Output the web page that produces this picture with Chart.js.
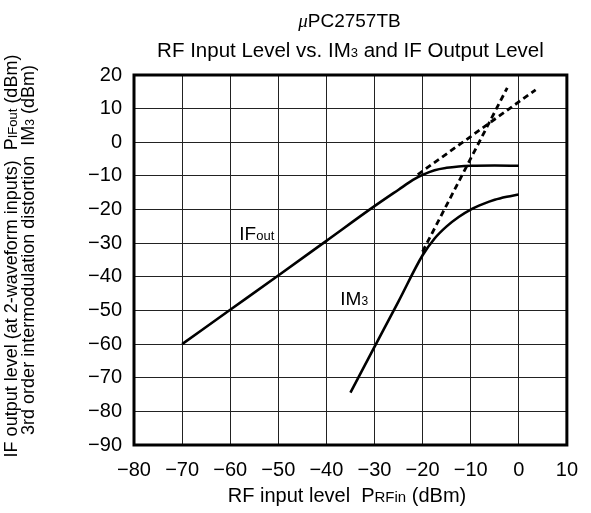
<!DOCTYPE html>
<html>
<head>
<meta charset="utf-8">
<script src="https://cdn.jsdelivr.net/npm/chart.js@4/dist/chart.umd.min.js"></script>
<style>
  html, body { margin: 0; padding: 0; background: #fff; }
  #wrap { width: 591px; height: 513px; }
</style>
</head>
<body>
<div id="wrap"><canvas id="c" width="591" height="513"></canvas></div>
<script>
// Axis ticks
const xTicks = [-80, -70, -60, -50, -40, -30, -20, -10, 0, 10];
const xTickLabels = ['\u221280', '\u221270', '\u221260', '\u221250', '\u221240', '\u221230', '\u221220', '\u221210', '0', '10'];
const yTicks = [-90, -80, -70, -60, -50, -40, -30, -20, -10, 0, 10, 20];
const yTickLabels = ['\u221290', '\u221280', '\u221270', '\u221260', '\u221250', '\u221240', '\u221230', '\u221220', '\u221210', '0', '10', '20'];

// IF output level vs RF input level (dBm)
const ifOutX = [-70, -60, -50, -40, -30, -25, -22, -20, -17.5, -15, -12.5, -10, -5, 0];
const ifOutY = [-60, -49.8, -39.6, -29.3, -19, -14.1, -11.2, -9.7, -8.3, -7.6, -7.2, -7.0, -6.9, -7.0];

// 3rd order intermodulation distortion vs RF input level (dBm)
const im3X = [-35, -30, -25, -20, -17.5, -15, -12.5, -10, -7.5, -5, -2.5, 0];
const im3Y = [-74.4, -60.8, -47.3, -33.6, -28.6, -25.0, -22.2, -20.0, -18.4, -17.1, -16.2, -15.5];

// Extrapolated straight-line asymptotes (intercept construction)
const ifOutExtX = [-21, 3.5];
const ifOutExtY = [-9.6, 15.6];
const im3ExtX = [-20, -2.4];
const im3ExtY = [-32.5, 16.2];

const toPts = (xs, ys) => xs.map((x, i) => ({ x: x, y: ys[i] }));

const SANS = '"Liberation Sans", Arial, sans-serif';
const f = (px) => px + 'px ' + SANS;

// Draw a run of text parts that share one baseline
function richWidth(ctx, parts) {
  let w = 0;
  for (const p of parts) { ctx.font = p.font; w += ctx.measureText(p.t).width; }
  return w;
}
function drawRich(ctx, parts, x, y, align) {
  const w = richWidth(ctx, parts);
  let cx = align === 'center' ? x - w / 2 : (align === 'right' ? x - w : x);
  ctx.textAlign = 'left';
  ctx.textBaseline = 'alphabetic';
  for (const p of parts) {
    ctx.font = p.font;
    ctx.fillText(p.t, cx, y);
    cx += ctx.measureText(p.t).width;
  }
}

const decorations = {
  id: 'decorations',
  afterDraw(chart) {
    const ctx = chart.ctx;
    const a = chart.chartArea;
    const sx = chart.scales.x, sy = chart.scales.y;
    ctx.save();
    // frame
    ctx.strokeStyle = '#000';
    ctx.lineWidth = 3;
    ctx.strokeRect(a.left, a.top, a.right - a.left, a.bottom - a.top);

    ctx.fillStyle = '#000';
    const cxPlot = (a.left + a.right) / 2;
    // titles
    drawRich(ctx, [
      { t: '\u03bc', font: 'italic 19px "Liberation Serif", serif' },
      { t: 'PC2757TB', font: f(19) }
    ], cxPlot - 1, 27, 'center');
    drawRich(ctx, [
      { t: 'RF Input Level vs. IM', font: f(20.5) },
      { t: '3', font: f(13) },
      { t: ' and IF Output Level', font: f(20.5) }
    ], cxPlot, 57, 'center');

    // x axis title
    drawRich(ctx, [
      { t: 'RF input level  P', font: f(20) },
      { t: 'RFin', font: f(15) },
      { t: ' (dBm)', font: f(20) }
    ], 347, 502, 'center');

    // y axis title (two rotated lines)
    ctx.save();
    ctx.translate(16.5, 256);
    ctx.rotate(-Math.PI / 2);
    drawRich(ctx, [
      { t: 'IF output level (at 2-waveform inputs)  P', font: f(18) },
      { t: 'IFout', font: f(13) },
      { t: ' (dBm)', font: f(18) }
    ], 0, 0, 'center');
    ctx.restore();
    ctx.save();
    ctx.translate(34, 250);
    ctx.rotate(-Math.PI / 2);
    drawRich(ctx, [
      { t: '3rd order intermodulation distortion  IM', font: f(18) },
      { t: '3', font: f(12) },
      { t: ' (dBm)', font: f(18) }
    ], 0, 0, 'center');
    ctx.restore();

    // curve labels
    drawRich(ctx, [
      { t: 'IF', font: f(19) },
      { t: 'out', font: f(13) }
    ], sx.getPixelForValue(-58.1), sy.getPixelForValue(-29.1), 'left');
    drawRich(ctx, [
      { t: 'IM', font: f(19) },
      { t: '3', font: f(12) }
    ], sx.getPixelForValue(-37.1), sy.getPixelForValue(-48.4), 'left');
    ctx.restore();
  }
};

const solid = { borderColor: '#000', borderWidth: 2.6, pointRadius: 0, showLine: true, fill: false, cubicInterpolationMode: 'monotone' };
const dashed = { borderColor: '#000', borderWidth: 2.8, pointRadius: 0, showLine: true, fill: false, borderDash: [6, 4] };

new Chart(document.getElementById('c'), {
  type: 'scatter',
  data: {
    datasets: [
      Object.assign({ label: 'IFout extrapolated', data: toPts(ifOutExtX, ifOutExtY) }, dashed),
      Object.assign({ label: 'IM3 extrapolated', data: toPts(im3ExtX, im3ExtY) }, dashed),
      Object.assign({ label: 'IFout', data: toPts(ifOutX, ifOutY) }, solid),
      Object.assign({ label: 'IM3', data: toPts(im3X, im3Y) }, solid)
    ]
  },
  options: {
    responsive: false,
    devicePixelRatio: 1,
    animation: false,
    layout: { padding: { left: 0, top: 75, right: 14, bottom: 0 } },
    plugins: { legend: { display: false }, tooltip: { enabled: false }, title: { display: false } },
    scales: {
      x: {
        type: 'linear', min: -80, max: 10,
        afterBuildTicks: (s) => { s.ticks = xTicks.map(v => ({ value: v })); },
        afterFit: (s) => { s.height = 68; },
        grid: { color: '#222', lineWidth: 1, drawTicks: false },
        border: { display: false },
        ticks: {
          autoSkip: false, maxRotation: 0, padding: 13, color: '#000',
          font: { family: SANS, size: 20 },
          callback: (v) => xTickLabels[xTicks.indexOf(v)]
        }
      },
      y: {
        type: 'linear', min: -90, max: 20,
        afterBuildTicks: (s) => { s.ticks = yTicks.map(v => ({ value: v })); },
        afterFit: (s) => { s.width = 134; },
        grid: { color: '#222', lineWidth: 1, drawTicks: false },
        border: { display: false },
        ticks: {
          autoSkip: false, padding: 12, color: '#000',
          font: { family: SANS, size: 20 },
          callback: (v) => yTickLabels[yTicks.indexOf(v)]
        }
      }
    }
  },
  plugins: [decorations]
});
</script>
</body>
</html>
